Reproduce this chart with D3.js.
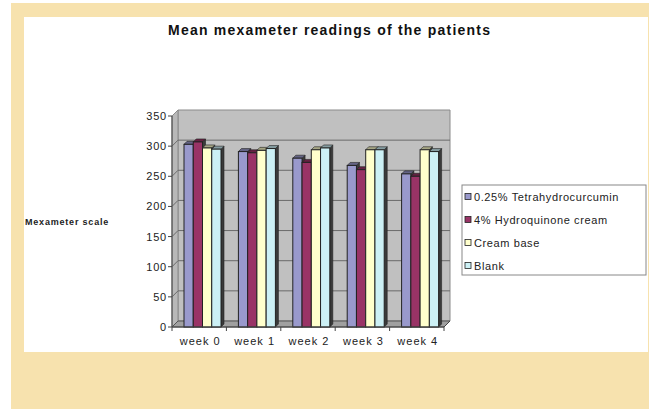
<!DOCTYPE html>
<html><head><meta charset="utf-8">
<script src="https://cdn.jsdelivr.net/npm/d3@7"></script>
<style>body{margin:0;background:#fff;} svg{display:block;font-family:"Liberation Sans",Arial,sans-serif;}</style>
</head><body>
<svg id="chart" width="649" height="409"></svg>
<script>
const categories = ["week 0", "week 1", "week 2", "week 3", "week 4"];
const seriesNames = ["0.25% Tetrahydrocurcumin", "4% Hydroquinone cream", "Cream base", "Blank"];
const tetrahydrocurcumin = [303, 291, 280, 268, 254];
const hydroquinone = [307, 289, 273, 261, 250];
const creamBase = [297, 293, 294, 294, 294];
const blank = [295, 296, 297, 294, 291];
const yTicks = [0, 50, 100, 150, 200, 250, 300, 350];
const seriesColors = ["#9999cc", "#993366", "#ffffcc", "#ccf0f5"];

const values = [tetrahydrocurcumin, hydroquinone, creamBase, blank];
const svg = d3.select("#chart");

// backgrounds
svg.append("rect").attr("x", 11).attr("y", 3).attr("width", 638).attr("height", 406).attr("fill", "#f7e2ae");
svg.append("rect").attr("x", 24).attr("y", 17).attr("width", 624).attr("height", 335).attr("fill", "#ffffff");

svg.append("text").attr("x", 329).attr("y", 35).attr("text-anchor", "middle")
  .attr("font-weight", "bold").attr("font-size", 14).attr("fill", "#111")
  .attr("textLength", 322).attr("lengthAdjust", "spacing")
  .text("Mean mexameter readings of the patients");

const y = d3.scaleLinear().domain([0, 350]).range([327, 116]);
const x0 = d3.scaleBand().domain(categories).range([172, 444]);
const x1 = d3.scaleBand().domain(seriesNames).range([0, 37]);
const dx = 6, dy = -6;
const x0s = 172, x0e = 444;

const pts = a => a.map(p => p.join(",")).join(" ");
// back wall
svg.append("polygon").attr("points", pts([[x0s+dx, y(350)+dy],[x0e+dx, y(350)+dy],[x0e+dx, y(0)+dy],[x0s+dx, y(0)+dy]]))
  .attr("fill", "#c0c0c0").attr("stroke", "#8a8a8a").attr("stroke-width", 1);
// side wall
svg.append("polygon").attr("points", pts([[x0s, y(350)],[x0s+dx, y(350)+dy],[x0s+dx, y(0)+dy],[x0s, y(0)]]))
  .attr("fill", "#b8b8b8").attr("stroke", "#8a8a8a").attr("stroke-width", 1);
// floor
svg.append("polygon").attr("points", pts([[x0s, y(0)],[x0s+dx, y(0)+dy],[x0e+dx, y(0)+dy],[x0e, y(0)]]))
  .attr("fill", "#a0a0a0").attr("stroke", "#555").attr("stroke-width", 1);
// gridlines
yTicks.filter(t => t > 0 && t < 350).forEach(t => {
  svg.append("line").attr("x1", x0s+dx).attr("x2", x0e+dx).attr("y1", y(t)+dy).attr("y2", y(t)+dy)
    .attr("stroke", "#6a6a6a").attr("stroke-width", 1);
  svg.append("line").attr("x1", x0s).attr("x2", x0s+dx).attr("y1", y(t)).attr("y2", y(t)+dy)
    .attr("stroke", "#6a6a6a").attr("stroke-width", 1);
});

// bars
const bd = 3;
const barW = x1.bandwidth();
categories.forEach((c, ci) => {
  seriesNames.forEach((s, si) => {
    const v = values[si][ci];
    const bx = x0(c) + 12 + x1(s);
    const by = y(v), b0 = y(0);
    const col = d3.color(seriesColors[si]);
    const g = svg.append("g");
    g.append("polygon").attr("points", pts([[bx+barW, by],[bx+barW+bd, by-bd],[bx+barW+bd, b0-bd],[bx+barW, b0]]))
      .attr("fill", "#3a3a3a").attr("stroke", "#222").attr("stroke-width", 0.6);
    g.append("polygon").attr("points", pts([[bx, by],[bx+bd, by-bd],[bx+barW+bd, by-bd],[bx+barW, by]]))
      .attr("fill", col.darker(1.2)).attr("stroke", "#222").attr("stroke-width", 0.6);
    g.append("rect").attr("x", bx).attr("y", by).attr("width", barW).attr("height", b0 - by)
      .attr("fill", seriesColors[si]).attr("stroke", "#222").attr("stroke-width", 1);
  });
});

// y axis
svg.append("line").attr("x1", x0s).attr("x2", x0s).attr("y1", y(350)).attr("y2", y(0)).attr("stroke", "#444");
yTicks.forEach(t => {
  svg.append("line").attr("x1", x0s-4).attr("x2", x0s).attr("y1", y(t)).attr("y2", y(t)).attr("stroke", "#444");
  svg.append("text").attr("x", 167).attr("y", y(t)+4).attr("text-anchor", "end")
    .attr("font-size", 11).attr("letter-spacing", 0.8).attr("fill", "#222").text(t);
});
// x axis
svg.append("line").attr("x1", x0s).attr("x2", x0e).attr("y1", y(0)).attr("y2", y(0)).attr("stroke", "#444");
svg.append("line").attr("x1", x0e).attr("x2", x0e+dx).attr("y1", y(0)).attr("y2", y(0)+dy).attr("stroke", "#444");
categories.forEach((c, i) => {
  const xt = x0(c);
  svg.append("line").attr("x1", xt).attr("x2", xt).attr("y1", y(0)).attr("y2", y(0)+4).attr("stroke", "#444");
  svg.append("text").attr("x", xt + x0.bandwidth()/2 + 1).attr("y", 345).attr("text-anchor", "middle")
    .attr("font-size", 11).attr("letter-spacing", 1).attr("fill", "#222").text(c);
});
svg.append("line").attr("x1", x0e).attr("x2", x0e).attr("y1", y(0)).attr("y2", y(0)+4).attr("stroke", "#444");

svg.append("text").attr("x", 25).attr("y", 225).attr("font-weight", "bold").attr("font-size", 9)
  .attr("letter-spacing", 0.8).attr("fill", "#222").text("Mexameter scale");

// legend
svg.append("rect").attr("x", 462).attr("y", 185).attr("width", 184).attr("height", 90)
  .attr("fill", "#fff").attr("stroke", "#888").attr("stroke-width", 1);
const ly = [197, 220, 243, 266];
seriesNames.forEach((s, i) => {
  svg.append("rect").attr("x", 465).attr("y", ly[i]-3.5).attr("width", 6).attr("height", 6)
    .attr("fill", seriesColors[i]).attr("stroke", "#222").attr("stroke-width", 0.8);
  svg.append("text").attr("x", 474).attr("y", ly[i]+4).attr("font-size", 11).attr("letter-spacing", 0.6)
    .attr("fill", "#222").text(s);
});
</script>
</body></html>
